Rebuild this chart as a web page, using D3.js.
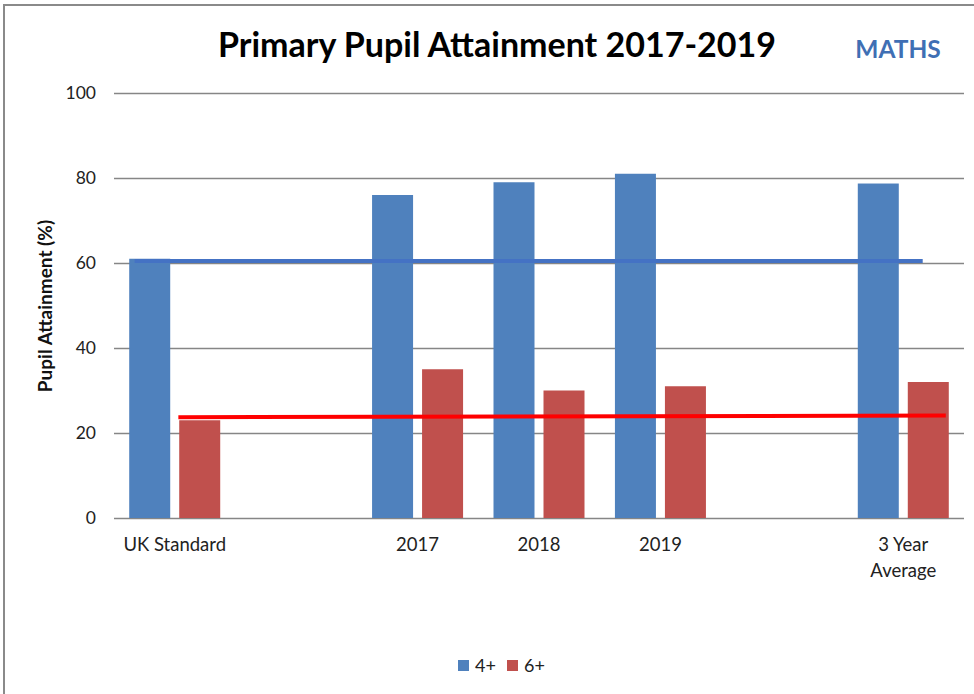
<!DOCTYPE html>
<html><head><meta charset="utf-8">
<script src="https://cdn.jsdelivr.net/npm/d3@7"></script>
<style>html,body{margin:0;padding:0;background:#fff;}svg{display:block;}</style>
</head><body>
<svg id="chart" width="974" height="694"></svg>
<script>
// ---- data ----
const categories = ["UK Standard", "", "2017", "2018", "2019", "", "3 Year Average"];
const series4 = [61, null, 76, 79, 81, null, 78.7];
const series6 = [23, null, 35, 30, 31, null, 32];
const seriesNames = ["4+", "6+"];
const yTicks = [0, 20, 40, 60, 80, 100];
// reference lines: [slot position, value] pairs
const line4 = [[-0.33, 60.5], [6.16, 60.5]];
const line6 = [[0.03, 23.7], [6.35, 24.1]];

const colors = ["#4F81BD", "#C0504D"];
const lineColors = ["#4472C4", "#FF0000"];
const FONT = "Lato, 'Open Sans', sans-serif";

const svg = d3.select("#chart");
const m = {left: 114, top: 93};
const pw = 964 - m.left, ph = 518 - m.top;

// border
svg.append("rect").attr("x", 4).attr("y", 5).attr("width", 1000).attr("height", 1000)
  .attr("fill", "none").attr("stroke", "#8a8a8a").attr("stroke-width", 2);

const x = d3.scaleBand().domain(d3.range(categories.length)).range([m.left, m.left + pw]);
const xs = d3.scaleLinear().domain([0, 1]).range([m.left + x.bandwidth()/2, m.left + x.bandwidth()*1.5]);
const y = d3.scaleLinear().domain([0, 100]).range([m.top + ph, m.top]);

// gridlines + y ticks
const yAxis = d3.axisLeft(y).tickValues(yTicks).tickSize(-pw).tickPadding(18);
const ga = svg.append("g").attr("transform", `translate(${m.left},0)`).call(yAxis);
ga.select(".domain").remove();
ga.selectAll(".tick line").attr("stroke", "#868686").attr("stroke-width", 1.5);
ga.selectAll(".tick text").attr("font-family", FONT).attr("font-size", 17.5).attr("fill", "#222");

// bars
const bw = 41, gap = 9;
const groupW = 2*bw + gap;
[series4, series6].forEach((s, si) => {
  svg.append("g").selectAll("rect").data(s.map((v, i) => ({v, i})).filter(d => d.v != null))
    .join("rect")
    .attr("x", d => x(d.i) + (x.bandwidth() - groupW)/2 + si*(bw + gap))
    .attr("width", bw)
    .attr("y", d => y(d.v))
    .attr("height", d => y(0) - y(d.v))
    .attr("fill", colors[si]);
});

// reference lines
const lg = d3.line().x(d => xs(d[0])).y(d => y(d[1]));
[line4, line6].forEach((l, i) => {
  svg.append("path").attr("d", lg(l)).attr("stroke", lineColors[i]).attr("stroke-width", 4).attr("fill", "none");
});

// x labels
const xl = svg.append("g");
categories.forEach((c, i) => {
  if (!c) return;
  const cx = x(i) + x.bandwidth()/2;
  const t = xl.append("text").attr("x", cx).attr("y", 551)
    .attr("text-anchor", "middle").attr("font-family", FONT)
    .attr("font-size", 18.5).attr("fill", "#222");
  if (c === "3 Year Average") {
    t.append("tspan").attr("x", cx).attr("dy", 0).text("3 Year");
    t.append("tspan").attr("x", cx).attr("dy", 26).text("Average");
  } else t.text(c);
});

// y axis title
svg.append("text").attr("transform", "translate(52,306) rotate(-90)").attr("text-anchor", "middle")
  .attr("font-family", FONT).attr("font-weight", "bold").attr("font-size", 19)
  .attr("fill", "#111").text("Pupil Attainment (%)");

// title
svg.append("text").attr("x", 497).attr("y", 57).attr("text-anchor", "middle")
  .attr("font-family", FONT).attr("font-weight", "bold").attr("font-size", 34)
  .attr("fill", "#000").text("Primary Pupil Attainment 2017-2019");
svg.append("text").attr("x", 898).attr("y", 58).attr("text-anchor", "middle")
  .attr("font-family", FONT).attr("font-weight", "bold").attr("font-size", 24.5)
  .attr("fill", "#3F6FB4").text("MATHS");

// legend
const leg = svg.append("g");
const legX = [458, 507];
seriesNames.forEach((n, i) => {
  leg.append("rect").attr("x", legX[i]).attr("y", 660).attr("width", 11).attr("height", 11).attr("fill", colors[i]);
  leg.append("text").attr("x", legX[i] + 17).attr("y", 672).attr("font-family", FONT)
    .attr("font-size", 18).attr("fill", "#222").text(n);
});
</script>
</body></html>
